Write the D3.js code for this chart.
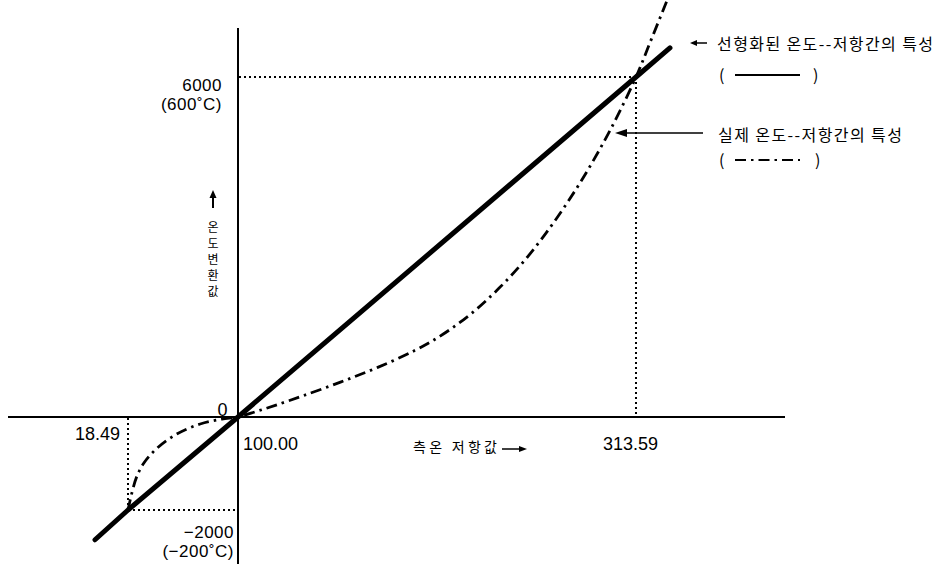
<!DOCTYPE html>
<html>
<head>
<meta charset="utf-8">
<script src="https://cdn.jsdelivr.net/npm/d3@7"></script>
<style>
  body { margin: 0; background: #fff; }
  svg { display: block; }
</style>
</head>
<body>
<script>
// Calibration points: measured resistance (Ω) against converted value
const calibR = [18.49, 100.00, 313.59];
const calibV = [-2000, 0, 6000];
const rLabels = ["18.49", "100.00", "313.59"];
const vLabels = [["\u22122000", "(\u2212200\u02daC)"], ["0"], ["6000", "(600\u02daC)"]];

// Linearised temperature–resistance characteristic
const linearR = [-5.96, 18.49, 100.00, 313.59, 331.8];
const linearV = [-2640, -2000, 0, 6000, 6513];

// Actual temperature–resistance characteristic
const realR = [18.49, 20, 22, 25, 30, 40, 55, 72, 88, 100,
               110, 120, 135, 155, 175, 195, 210, 225, 240, 255,
               270, 285, 300, 313.59, 322, 331];
const realV = [-2000, -1800, -1560, -1280, -1000, -670, -360, -150, -45, 0,
               100, 205, 376, 616, 876, 1176, 1460, 1820, 2270, 2810,
               3460, 4210, 5080, 6000, 6680, 7410];

const legendTexts = ["선형화된 온도--저항간의 특성", "실제 온도--저항간의 특성"];
const xTitle = "측온 저항값";
const yTitle = "온도변환값";

const W = 936, H = 564;
const numFont = "'Liberation Sans', Arial, sans-serif";
const korFont = "'Noto Sans CJK KR', 'Noto Sans', sans-serif";

// Piecewise scales: the schematic is not drawn to a single ratio on either side of the origin
const x = d3.scaleLinear().domain(calibR).range([128, 238, 636]);
const y = d3.scaleLinear().domain(calibV).range([510, 417, 77]);

const svg = d3.select("body").append("svg")
  .attr("width", W).attr("height", H)
  .attr("viewBox", `0 0 ${W} ${H}`);

svg.append("rect").attr("width", W).attr("height", H).attr("fill", "#fff");

const x0 = x(100), y0 = y(0);

// Axes
svg.append("line").attr("x1", 8).attr("x2", 785).attr("y1", y0).attr("y2", y0)
  .attr("stroke", "#000").attr("stroke-width", 2);
svg.append("line").attr("x1", x0).attr("x2", x0).attr("y1", 28).attr("y2", H)
  .attr("stroke", "#000").attr("stroke-width", 2);

// Dotted guide lines to the calibration points
const guides = svg.append("g").attr("stroke", "#000").attr("stroke-width", 2)
  .attr("stroke-dasharray", "2,3").attr("fill", "none");
[0, 2].forEach(i => {
  guides.append("line").attr("x1", x(calibR[i])).attr("x2", x0)
    .attr("y1", y(calibV[i])).attr("y2", y(calibV[i]));
  guides.append("line").attr("x1", x(calibR[i])).attr("x2", x(calibR[i]))
    .attr("y1", y(calibV[i])).attr("y2", y0);
});

// Actual characteristic (dash-dot)
const realPts = realR.map((r, i) => [x(r), y(realV[i])]);
svg.append("path")
  .attr("d", d3.line().curve(d3.curveCatmullRom.alpha(0.5))(realPts))
  .attr("fill", "none").attr("stroke", "#000").attr("stroke-width", 2.8)
  .attr("stroke-dasharray", "11,5,2.5,5");

// Linearised characteristic (thick solid)
const linPts = linearR.map((r, i) => [x(r), y(linearV[i])]);
svg.append("path")
  .attr("d", d3.line()(linPts))
  .attr("fill", "none").attr("stroke", "#000").attr("stroke-width", 5)
  .attr("stroke-linecap", "round").attr("stroke-linejoin", "round");

// Arrow helper: shaft from (x1,y1) to the tip at (x2,y2)
function arrow(x1, y1, x2, y2, len, wid, sw) {
  const a = Math.atan2(y2 - y1, x2 - x1);
  const bx = x2 - len * Math.cos(a), by = y2 - len * Math.sin(a);
  const px = Math.sin(a) * wid / 2, py = -Math.cos(a) * wid / 2;
  svg.append("line").attr("x1", x1).attr("y1", y1).attr("x2", bx).attr("y2", by)
    .attr("stroke", "#000").attr("stroke-width", sw);
  svg.append("path")
    .attr("d", `M${x2},${y2}L${bx + px},${by + py}L${bx - px},${by - py}Z`)
    .attr("fill", "#000");
}

// Two-line value label as one text element
function twoLine(g, xPos, yPos, lines, gap) {
  const t = g.append("text").attr("x", xPos).attr("y", yPos);
  lines.forEach((s, i) => t.append("tspan").attr("x", xPos).attr("dy", i ? gap : 0).text(s));
}

// Value labels on the vertical axis
const vText = svg.append("g").attr("font-family", numFont).attr("font-size", 17)
  .attr("fill", "#000").attr("text-anchor", "end").attr("letter-spacing", 0.5);
twoLine(vText, x0 - 16, y(calibV[2]) + 13.5, vLabels[2], 19);
vText.append("text").attr("x", x0 - 10).attr("y", y0 - 1).attr("font-size", 18).text(vLabels[1][0]);
twoLine(vText, x0 - 4, y(calibV[0]) + 27.5, vLabels[0], 19);

// Resistance labels on the horizontal axis
const rText = svg.append("g").attr("font-family", numFont).attr("font-size", 18).attr("fill", "#000");
rText.append("text").attr("x", x(calibR[0]) - 8).attr("y", y0 + 23)
  .attr("text-anchor", "end").text(rLabels[0]);
rText.append("text").attr("x", x0 + 5).attr("y", y0 + 33).text(rLabels[1]);
rText.append("text").attr("x", x(calibR[2]) - 33).attr("y", y0 + 33).text(rLabels[2]);

// Axis titles
svg.append("text").attr("x", 413).attr("y", 452)
  .attr("font-family", korFont).attr("font-size", 14)
  .attr("textLength", 84).attr("lengthAdjust", "spacing").text(xTitle);
arrow(502, 449, 527, 449, 8, 6, 1.5);

arrow(213, 208, 213, 190, 8, 7, 2);
svg.append("text")
  .attr("x", 213).attr("y", 221)
  .attr("font-family", korFont).attr("font-size", 12)
  .style("writing-mode", "vertical-rl")
  .style("text-orientation", "upright")
  .attr("letter-spacing", 4.2)
  .text(yTitle);

// Legend entries
const lg = svg.append("g").attr("font-family", korFont).attr("font-size", 16).attr("fill", "#000");
arrow(707, 43, 690, 43, 7, 6, 1.5);
lg.append("text").attr("x", 717).attr("y", 50)
  .attr("textLength", 216).attr("lengthAdjust", "spacing").text(legendTexts[0]);
lg.append("text").attr("x", 719).attr("y", 81).text("(");
lg.append("text").attr("x", 813).attr("y", 81).text(")");
svg.append("line").attr("x1", 735).attr("x2", 800).attr("y1", 75).attr("y2", 75)
  .attr("stroke", "#000").attr("stroke-width", 2.2);

arrow(703, 133, 615, 133, 12, 8, 1.5);
lg.append("text").attr("x", 718).attr("y", 141)
  .attr("textLength", 184).attr("lengthAdjust", "spacing").text(legendTexts[1]);
lg.append("text").attr("x", 719).attr("y", 166).text("(");
lg.append("text").attr("x", 815).attr("y", 166).text(")");
svg.append("line").attr("x1", 735).attr("x2", 800).attr("y1", 160).attr("y2", 160)
  .attr("stroke", "#000").attr("stroke-width", 2)
  .attr("stroke-dasharray", "11,5,2.5,5");
</script>
</body>
</html>
